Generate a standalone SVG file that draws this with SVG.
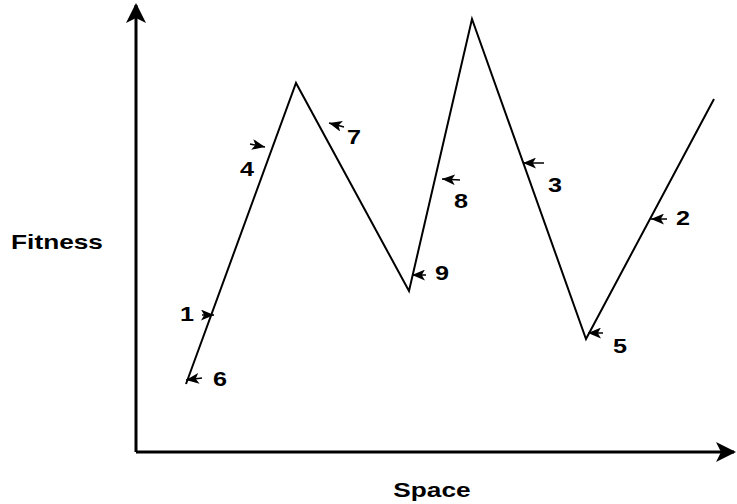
<svg xmlns="http://www.w3.org/2000/svg" width="737" height="504" viewBox="0 0 737 504">
<defs>
<style>
.ax{stroke:#000;stroke-width:3;fill:none}
.ln{stroke:#000;stroke-width:2;fill:none;stroke-linejoin:miter}
.sa{stroke:#000;stroke-width:1.5;fill:none}
.lb{font-family:"Liberation Sans",Arial,sans-serif;font-weight:bold;font-size:21px;fill:#000;text-anchor:middle}
</style>
<marker id="big" viewBox="0 0 20 20" refX="18" refY="10" markerWidth="20" markerHeight="20" markerUnits="userSpaceOnUse" orient="auto">
<path d="M0,0 L20,10 L0,20 L5,10 Z" fill="#000"/>
</marker>
<marker id="sm" viewBox="0 0 12 10" refX="12" refY="5" markerWidth="13" markerHeight="11" markerUnits="userSpaceOnUse" orient="auto">
<path d="M0,0 L12,5 L0,10 L3,5 Z" fill="#000"/>
</marker>
</defs>
<g id="axes">
<line class="ax" x1="136" y1="452" x2="136" y2="5" marker-end="url(#big)"/>
<line class="ax" x1="136" y1="452" x2="734" y2="452" marker-end="url(#big)"/>
</g>
<g id="curve">
<polyline class="ln" points="186,384 296,83 409,291 472,19 586,339 714,99"/>
</g>
<g id="connectors">
<line class="sa" x1="202" y1="315" x2="214" y2="315" marker-end="url(#sm)"/>
<line class="sa" x1="202" y1="378" x2="186" y2="380" marker-end="url(#sm)"/>
<line class="sa" x1="250" y1="144" x2="265" y2="147" marker-end="url(#sm)"/>
<line class="sa" x1="344" y1="127" x2="329" y2="123" marker-end="url(#sm)"/>
<line class="sa" x1="460" y1="180" x2="442" y2="179" marker-end="url(#sm)"/>
<line class="sa" x1="426" y1="275" x2="412" y2="275" marker-end="url(#sm)"/>
<line class="sa" x1="544" y1="163" x2="523" y2="163" marker-end="url(#sm)"/>
<line class="sa" x1="603" y1="333" x2="588" y2="333" marker-end="url(#sm)"/>
<line class="sa" x1="667" y1="219" x2="651" y2="219" marker-end="url(#sm)"/>
</g>
<g id="labels">
<text class="lb" transform="translate(187,321) scale(1.2,1)">1</text>
<text class="lb" transform="translate(220,386) scale(1.2,1)">6</text>
<text class="lb" transform="translate(247,176) scale(1.2,1)">4</text>
<text class="lb" transform="translate(354,144) scale(1.2,1)">7</text>
<text class="lb" transform="translate(461,208) scale(1.2,1)">8</text>
<text class="lb" transform="translate(442,280) scale(1.2,1)">9</text>
<text class="lb" transform="translate(555,192) scale(1.2,1)">3</text>
<text class="lb" transform="translate(620,353) scale(1.2,1)">5</text>
<text class="lb" transform="translate(683,225) scale(1.2,1)">2</text>
<text class="lb" transform="translate(57,249) scale(1.25,1)">Fitness</text>
<text class="lb" transform="translate(432,497) scale(1.25,1)">Space</text>
</g>
</svg>
